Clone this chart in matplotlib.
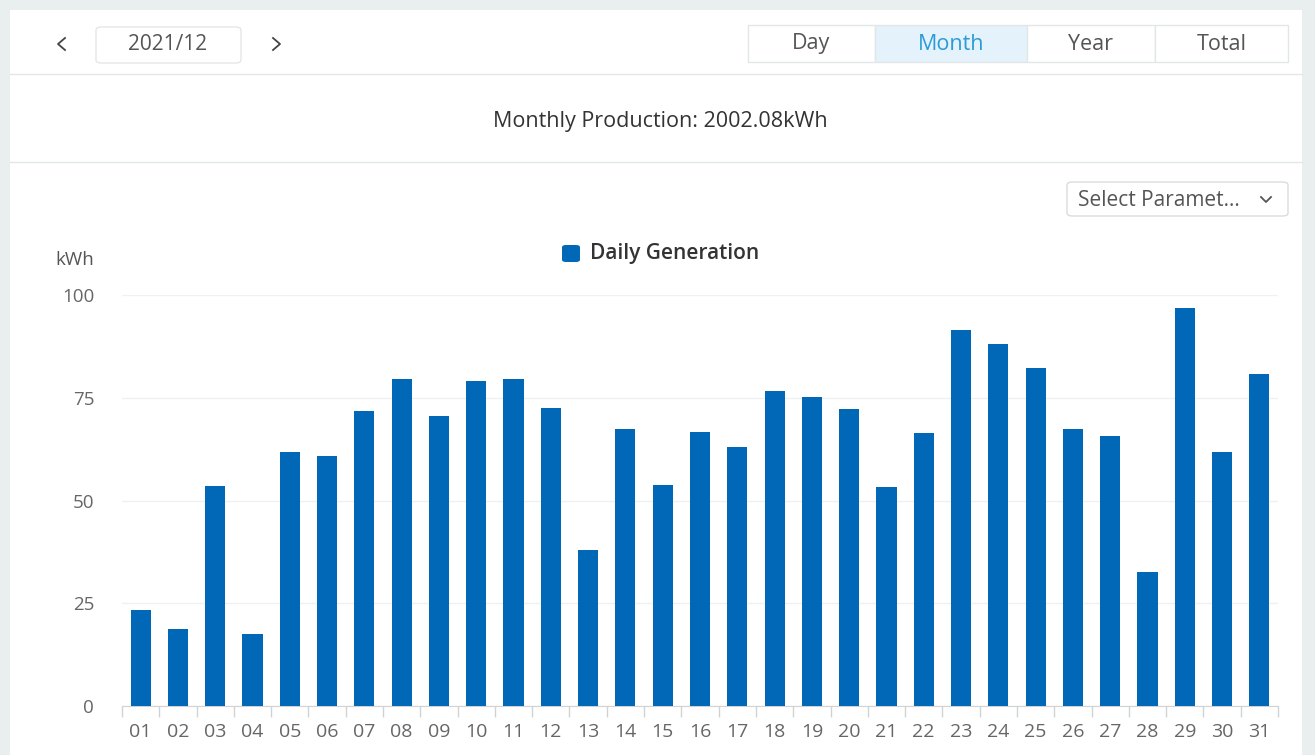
import matplotlib.pyplot as plt
from matplotlib.patches import Rectangle, FancyBboxPatch
from matplotlib.lines import Line2D

days = ['01', '02', '03', '04', '05', '06', '07', '08', '09', '10',
        '11', '12', '13', '14', '15', '16', '17', '18', '19', '20',
        '21', '22', '23', '24', '25', '26', '27', '28', '29', '30', '31']
generation = [23.4, 18.7, 53.5, 17.5, 61.8, 60.8, 71.8, 79.6, 70.6, 79.1,
              79.6, 72.5, 38.0, 67.4, 53.8, 66.7, 63.0, 76.6, 75.2, 72.3,
              53.3, 66.4, 91.5, 88.1, 82.2, 67.4, 65.7, 32.6, 96.8, 61.8, 80.8]
yticks = [0, 25, 50, 75, 100]
modes = ['Day', 'Month', 'Year', 'Total']

W, H = 1315, 755
BLUE = '#0068b7'
plt.rcParams['font.family'] = ['Open Sans', 'DejaVu Sans']

fig = plt.figure(figsize=(W / 100, H / 100), dpi=100)
fig.patch.set_facecolor('#e9efee')


def fx(x):
    return x / W


def fy(y):
    return 1 - y / H


def box(x0, y0, x1, y1, fc='white', ec='#e3e6e8', lw=1, rounded=False):
    if rounded:
        p = FancyBboxPatch((fx(x0), fy(y1)), fx(x1 - x0), (y1 - y0) / H,
                           boxstyle='round,pad=0,rounding_size=0.004',
                           transform=fig.transFigure, fc=fc, ec=ec, lw=lw)
    else:
        p = Rectangle((fx(x0), fy(y1)), fx(x1 - x0), (y1 - y0) / H,
                      transform=fig.transFigure, fc=fc, ec=ec, lw=lw)
    fig.patches.append(p)


def line(xs, ys, color='#e3e6e8', lw=1):
    fig.lines.append(Line2D([fx(v) for v in xs], [fy(v) for v in ys],
                            transform=fig.transFigure, color=color, lw=lw))


# panels
box(10, 10, 1302, 755, fc='white', ec='none')
line([10, 1302], [74, 74])
line([10, 1302], [162, 162])

# date navigation
line([65, 58, 65], [38, 44, 50], color='#444444', lw=1.3)
box(96, 27, 241, 63, rounded=True)
fig.text(fx(168), fy(45), '2021/12', fontsize=15, color='#555555', ha='center', va='center')
line([273, 280, 273], [38, 44, 50], color='#444444', lw=1.3)

# mode buttons
edges = [748, 875, 1027, 1155, 1288]
for i, m in enumerate(modes):
    active = m == 'Month'
    box(edges[i], 25, edges[i + 1], 62, fc='#e3f2fb' if active else 'white', ec='#e3e6e8')
    fig.text(fx((edges[i] + edges[i + 1]) / 2), fy(44), m, fontsize=15.5,
             color='#2a9bd8' if active else '#555555', ha='center', va='center')

fig.text(fx(660), fy(121), 'Monthly Production: 2002.08kWh', fontsize=15.5,
         color='#333333', ha='center', va='center')

# select box
box(1067, 182, 1288, 216, rounded=True, ec='#d9dcdf')
fig.text(fx(1078), fy(200), 'Select Paramet...', fontsize=15, color='#555555', va='center')
line([1261, 1266, 1271], [197, 202, 197], color='#555555', lw=1.3)

# legend
fig.patches.append(FancyBboxPatch((fx(562), fy(262)), fx(18), 17 / H,
                                  boxstyle='round,pad=0,rounding_size=0.003',
                                  transform=fig.transFigure, fc=BLUE, ec='none'))
fig.text(fx(590), fy(254), 'Daily Generation', fontsize=15, fontweight='semibold',
         color='#333333', va='center')

fig.text(fx(75), fy(260), 'kWh', fontsize=13.5, color='#555555', ha='center', va='center')

# chart
ax = fig.add_axes([fx(122), fy(706), fx(1278 - 122), (706 - 295) / H])
ax.set_zorder(5)
x = list(range(len(days)))
ax.bar(x, generation, width=0.54, color=BLUE, zorder=3)
ax.set_xlim(-0.5, len(days) - 0.5)
ax.set_ylim(0, 100)
ax.set_yticks(yticks)
ax.set_yticklabels([str(v) for v in yticks], fontsize=13.5, color='#666666')
ax.tick_params(axis='y', length=0, pad=20)
ax.set_xticks(x)
ax.set_xticklabels(days, fontsize=14, color='#666666')
ax.tick_params(axis='x', length=0, pad=12)
ax.set_xticks([i - 0.5 for i in range(len(days) + 1)], minor=True)
ax.tick_params(axis='x', which='minor', length=8, color='#cfd3d6', width=1)
ax.grid(axis='y', color='#eef0f2', lw=1, zorder=0)
for s in ['top', 'right', 'left']:
    ax.spines[s].set_visible(False)
ax.spines['bottom'].set_color('#cfd3d6')
ax.set_facecolor('none')

fig.savefig('out.png', dpi=100, facecolor=fig.get_facecolor())
